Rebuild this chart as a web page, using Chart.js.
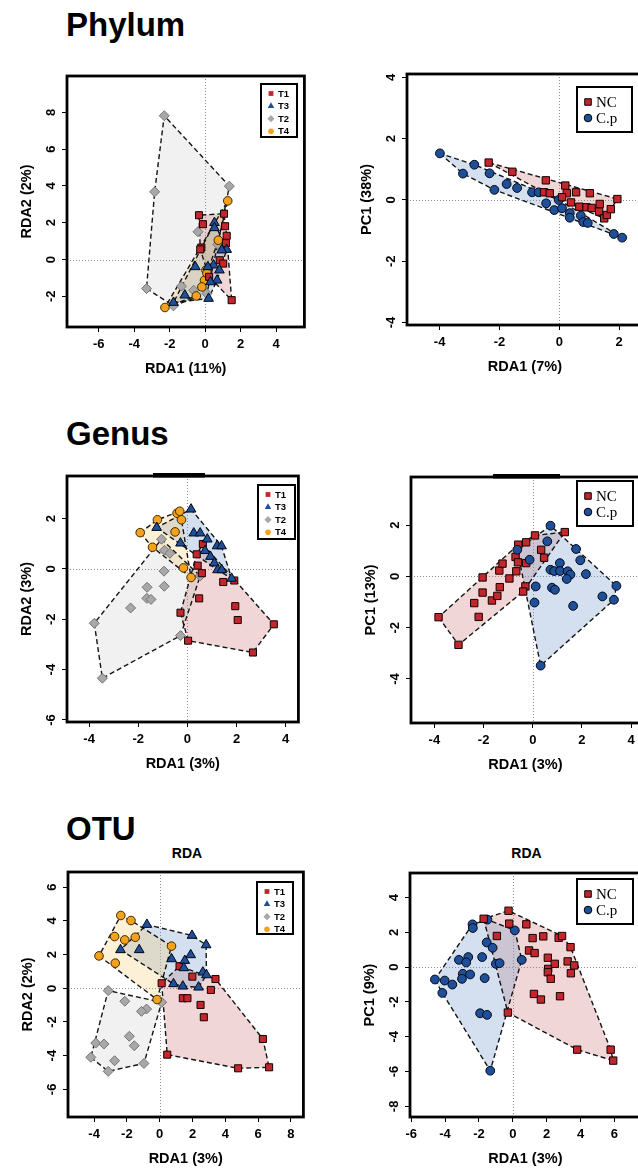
<!DOCTYPE html>
<html><head><meta charset="utf-8">
<script src="https://cdn.jsdelivr.net/npm/chart.js@4.4.0/dist/chart.umd.min.js"></script>
<style>
html,body{margin:0;padding:0;background:#fff;}
body{width:638px;height:1168px;overflow:hidden;position:relative;font-family:"Liberation Sans",Arial,sans-serif;}
.title{position:absolute;font-weight:bold;font-size:33px;line-height:33px;color:#000;white-space:nowrap;}
.sub{position:absolute;font-weight:bold;font-size:14px;line-height:14px;text-align:center;color:#000;}
canvas{position:absolute;}
</style></head><body>
<div class="title" style="left:66px;top:8px">Phylum</div>
<div class="title" style="left:66px;top:417px">Genus</div>
<div class="title" style="left:66px;top:812px">OTU</div>
<div class="sub" style="left:68px;top:846px;width:238px">RDA</div>
<div class="sub" style="left:410px;top:846px;width:233px">RDA</div>
<script>
// ================= DATA =================
const rdaGroups = ['T1', 'T3', 'T2', 'T4'];
const pcGroups = ['NC', 'C.p'];

// Phylum – RDA by treatment
const phylumRdaT1 = [[-0.35,2.41],[-0.13,1.92],[1.06,2.49],[1.12,1.81],[1.21,1.29],[1.17,0.89],[-0.22,0.65],[-0.28,0.55],[0.82,-0.04],[1.01,-0.22],[0.22,-0.94],[1.49,-2.21]];
const phylumRdaT3 = [[0.52,2.0],[0.52,1.72],[1.21,0.54],[0.93,0.51],[-0.56,-0.40],[0.47,-0.31],[0.80,-0.58],[0.15,-0.40],[0.67,-1.13],[0.30,-1.22],[-1.15,-1.94],[-1.79,-2.34],[0.19,-2.12]];
const phylumRdaT2 = [[-2.31,7.82],[1.36,3.99],[-2.85,3.68],[-3.31,-1.58],[-1.79,-2.52],[-1.34,-1.45],[-0.65,-1.67],[-0.41,1.51],[0.71,0.82],[0.09,-1.85]];
const phylumRdaT4 = [[1.27,3.19],[0.74,1.05],[0.04,-0.58],[-0.04,-1.13],[-0.19,-1.49],[-0.50,-1.98],[-2.27,-2.61],[0.10,-0.75]];
// Phylum – PCA NC vs C.p
const phylumPcNC = [[-2.36,1.22],[-1.57,0.92],[-0.45,0.64],[0.20,0.47],[0.25,0.22],[0.56,0.25],[1.02,0.22],[1.94,0.03],[-0.51,0.25],[-0.32,0.22],[0.09,0.09],[0.39,-0.08],[0.67,-0.22],[0.91,-0.24],[1.08,-0.26],[1.35,-0.13],[1.33,-0.38],[1.50,-0.60],[1.59,-0.49],[1.72,-0.30]];
const phylumPcCp = [[-3.99,1.52],[-3.22,0.86],[-2.84,1.15],[-2.33,0.87],[-2.17,0.33],[-1.76,0.52],[-1.41,0.39],[-0.91,0.25],[-0.69,0.25],[-0.44,-0.11],[-0.17,-0.33],[-0.02,0.0],[0.09,-0.27],[0.35,-0.43],[0.35,-0.58],[0.72,-0.51],[0.80,-0.72],[0.95,-0.75],[1.82,-1.11],[2.10,-1.23]];

// Genus – RDA by treatment
const genusRdaT1 = [[0.63,0.99],[0.38,0.58],[0.42,0.13],[0.59,-0.17],[1.46,-0.52],[1.91,-0.46],[0.48,-1.17],[-0.28,-1.74],[0.03,-2.85],[1.95,-1.48],[2.05,-2.03],[3.52,-2.20],[2.67,-3.32]];
const genusRdaT3 = [[0.15,2.37],[-1.25,1.64],[-0.28,1.02],[0.26,1.42],[0.52,1.42],[0.81,1.18],[0.72,0.72],[1.21,0.91],[1.39,0.91],[0.94,0.49],[1.10,0.23],[1.23,-0.04],[1.40,-0.04],[1.80,-0.38]];
const genusRdaT2 = [[-1.05,1.18],[-0.93,0.74],[-0.71,0.62],[-0.95,-0.09],[-0.94,-0.69],[-1.64,-0.73],[-1.65,-1.17],[-1.48,-1.21],[-2.31,-1.55],[-3.79,-2.16],[-3.46,-4.34],[-0.28,-2.65],[0.52,-0.28]];
const genusRdaT4 = [[-1.92,1.44],[-1.22,1.95],[-0.42,2.21],[-0.31,2.29],[-0.24,1.95],[-0.50,1.47],[-1.42,0.86],[-0.16,0.04],[0.15,-0.34]];
// Genus – PCA NC vs C.p
const genusPcNC = [[-3.83,-1.59],[-3.02,-2.67],[-2.20,-1.58],[-2.38,-1.04],[-2.04,-0.04],[-2.04,-0.63],[-1.66,-0.94],[-1.44,-0.76],[-1.34,-0.42],[-1.36,0.23],[-1.23,0.50],[-0.95,-0.08],[-0.70,0.76],[-0.59,1.24],[-0.60,0.55],[-0.27,1.33],[-0.27,0.52],[0.09,1.60],[0.34,1.04],[0.46,0.73],[1.30,1.73],[-0.67,0.20],[-0.30,-0.39],[-0.39,-0.59]];
const genusPcCp = [[0.72,1.98],[0.59,1.37],[-0.63,1.04],[-0.13,0.65],[1.76,1.07],[1.93,0.63],[1.10,0.52],[0.72,0.26],[0.87,0.21],[1.11,0.21],[1.42,0.20],[1.53,0.07],[1.38,-0.10],[2.16,0.09],[0.78,-0.44],[0.90,-0.52],[0.12,-0.39],[0.07,-1.02],[1.64,-1.15],[2.83,-0.78],[3.30,-0.91],[3.40,-0.37],[0.32,-3.48]];

// OTU – RDA by treatment
const otuRdaT1 = [[1.21,1.31],[1.99,0.69],[3.40,0.55],[0.12,0.30],[3.12,-0.10],[1.41,-0.59],[1.69,-0.59],[2.49,-0.99],[2.69,-1.72],[6.29,-3.01],[6.67,-4.69],[4.78,-4.75],[0.46,-3.94]];
const otuRdaT3 = [[-0.78,3.78],[1.97,3.13],[2.83,2.57],[-2.39,2.28],[-1.25,2.28],[0.72,1.74],[1.53,1.64],[1.89,1.98],[1.47,1.21],[2.63,0.95],[2.85,0.79],[0.84,0.26],[1.41,0.12],[2.37,0.06]];
const otuRdaT2 = [[-3.14,-0.14],[-2.13,-0.77],[0.12,-0.83],[-0.80,-1.23],[-1.11,-1.37],[-1.85,-2.85],[-1.55,-3.41],[-3.90,-3.25],[-3.40,-3.31],[-4.20,-4.10],[-2.75,-4.30],[-3.14,-4.93],[-0.96,-4.46]];
const otuRdaT4 = [[-2.37,4.32],[-1.75,4.02],[-2.75,3.07],[-2.13,2.87],[-1.49,3.03],[-3.70,1.92],[-2.71,1.49],[0.72,2.50],[-0.16,-0.67]];
// OTU – PCA NC vs C.p
const otuPcNC = [[-0.25,3.24],[-1.72,2.78],[-0.21,2.50],[0.80,2.46],[-0.94,1.79],[1.17,1.67],[1.80,1.77],[2.71,1.69],[2.91,1.79],[3.41,1.15],[0.96,0.96],[1.29,0.81],[2.07,0.54],[3.24,0.33],[3.63,0.10],[2.09,-0.10],[2.48,0.19],[2.07,-0.29],[2.24,-0.67],[3.43,-0.35],[1.25,-1.54],[1.66,-1.86],[2.79,-1.67],[-0.29,-2.61],[3.80,-4.74],[5.78,-4.74],[5.93,-5.37]];
const otuPcCp = [[-1.50,2.73],[-2.38,2.46],[-2.36,2.25],[0.12,2.11],[-1.54,1.42],[-1.19,1.11],[-3.18,0.42],[-2.63,0.58],[-2.75,0.27],[-1.81,0.58],[-1.00,0.19],[-0.78,0.23],[0.53,0.42],[-2.95,-0.38],[-2.52,-0.42],[-3.00,-0.67],[-1.66,-0.63],[-4.60,-0.71],[-4.02,-0.77],[-3.57,-1.00],[-4.16,-1.48],[-1.93,-2.65],[-1.52,-2.74],[-1.33,-5.95]];

// Tick values
const phylumRdaXTicks = [-6,-4,-2,0,2,4];
const phylumRdaYTicks = [-2,0,2,4,6,8];
const phylumPcXTicks = [-4,-2,0,2];
const phylumPcYTicks = [-4,-2,0,2,4];
const genusRdaXTicks = [-4,-2,0,2,4];
const genusRdaYTicks = [-6,-4,-2,0,2];
const genusPcXTicks = [-4,-2,0,2,4];
const genusPcYTicks = [-4,-2,0,2];
const otuRdaXTicks = [-4,-2,0,2,4,6,8];
const otuRdaYTicks = [-6,-4,-2,0,2,4,6];
const otuPcXTicks = [-6,-4,-2,0,2,4,6];
const otuPcYTicks = [-8,-6,-4,-2,0,2,4];

// Axis titles
const xTitles = ['RDA1 (11%)', 'RDA1 (7%)', 'RDA1 (3%)', 'RDA1 (3%)', 'RDA1 (3%)', 'RDA1 (3%)'];
const yTitles = ['RDA2 (2%)', 'PC1 (38%)', 'RDA2 (3%)', 'PC1 (13%)', 'RDA2 (2%)', 'PC1 (9%)'];

// ================= STYLE / LAYOUT =================
const STY = {
  'T1':  {ps:'rect',     r:5.0, bg:'#c1272d', bd:'#140000', hull:'rgba(205,120,120,0.30)', lr:3.4},
  'T3':  {ps:'triangle', r:5.6, bg:'#1f4f99', bd:'#000814', hull:'rgba(120,160,205,0.32)', lr:3.8},
  'T2':  {ps:'rectRot',  r:5.0, bg:'#a8a8a8', bd:'#747474', hull:'rgba(170,170,170,0.17)', lr:3.6},
  'T4':  {ps:'circle',   r:4.3, bg:'#f4a21d', bd:'#3a2800', hull:'rgba(245,200,110,0.28)', lr:2.8},
  'NC':  {ps:'rect',     r:5.2, bg:'#c1272d', bd:'#140000', hull:'rgba(205,120,120,0.30)', lr:4.6},
  'C.p': {ps:'circle',   r:4.4, bg:'#1f4f99', bd:'#000814', hull:'rgba(120,160,205,0.32)', lr:3.8}
};

const PANELS = [
  {box:[67,76,307,327],  xr:[-7.79,5.59], yr:[-3.67,9.98], xt:phylumRdaXTicks, yt:phylumRdaYTicks, names:rdaGroups, sets:[phylumRdaT1,phylumRdaT3,phylumRdaT2,phylumRdaT4], drawOrder:[2,3,0,1], leg:{x:261,y:84,w:36,h:53,kind:'small'}},
  {box:[407,74,645,325], xr:[-5.09,2.79], yr:[-4.08,4.11], xt:phylumPcXTicks, yt:phylumPcYTicks, names:pcGroups, sets:[phylumPcNC,phylumPcCp], drawOrder:[1,0], leg:{x:577,y:87,w:55,h:45,kind:'big'}},
  {box:[67,476,301,722], xr:[-4.90,4.52], yr:[-6.08,3.69], xt:genusRdaXTicks, yt:genusRdaYTicks, names:rdaGroups, sets:[genusRdaT1,genusRdaT3,genusRdaT2,genusRdaT4], drawOrder:[2,3,0,1], leg:{x:258,y:485,w:37,h:54,kind:'small'}, seg:[153,205]},
  {box:[411,477,642,723], xr:[-4.95,4.35], yr:[-5.72,3.88], xt:genusPcXTicks, yt:genusPcYTicks, names:pcGroups, sets:[genusPcNC,genusPcCp], drawOrder:[0,1], leg:{x:577,y:481,w:56,h:45,kind:'big'}, seg:[493,560]},
  {box:[68,872,306,1117], xr:[-5.59,8.76], yr:[-7.64,6.90], xt:otuRdaXTicks, yt:otuRdaYTicks, names:rdaGroups, sets:[otuRdaT1,otuRdaT3,otuRdaT2,otuRdaT4], drawOrder:[2,3,0,1], leg:{x:257,y:882,w:36,h:52,kind:'small'}},
  {box:[410,873,643,1117], xr:[-6.07,7.56], yr:[-8.61,5.41], xt:otuPcXTicks, yt:otuPcYTicks, names:pcGroups, sets:[otuPcNC,otuPcCp], drawOrder:[1,0], leg:{x:577,y:879,w:56,h:45,kind:'big'}}
];

// ================= HELPERS =================
function convexHull(pts){
  const p = pts.map(a=>({x:a[0],y:a[1]})).sort((a,b)=>a.x-b.x||a.y-b.y);
  const cross=(o,a,b)=>(a.x-o.x)*(b.y-o.y)-(a.y-o.y)*(b.x-o.x);
  const lo=[];for(const q of p){while(lo.length>=2&&cross(lo[lo.length-2],lo[lo.length-1],q)<=0)lo.pop();lo.push(q);}
  const up=[];for(let i=p.length-1;i>=0;i--){const q=p[i];while(up.length>=2&&cross(up[up.length-2],up[up.length-1],q)<=0)up.pop();up.push(q);}
  lo.pop();up.pop();
  const h=lo.concat(up);h.push({x:h[0].x,y:h[0].y});return h;
}
function drawSym(ctx, ps, x, y, r, bg, bd, bw){
  ctx.beginPath();
  if(ps==='rect'){const s=r*Math.SQRT1_2;ctx.rect(x-s,y-s,2*s,2*s);}
  else if(ps==='circle'){ctx.arc(x,y,r,0,Math.PI*2);}
  else if(ps==='rectRot'){ctx.moveTo(x,y-r);ctx.lineTo(x+r,y);ctx.lineTo(x,y+r);ctx.lineTo(x-r,y);ctx.closePath();}
  else {ctx.moveTo(x,y-r);ctx.lineTo(x+r*0.866,y+r*0.5);ctx.lineTo(x-r*0.866,y+r*0.5);ctx.closePath();}
  ctx.fillStyle=bg;ctx.fill();
  if(bw){ctx.lineWidth=bw;ctx.strokeStyle=bd;ctx.stroke();}
}

const decoPlugin = {
  id:'deco',
  beforeDatasetsDraw(chart){
    const {ctx, chartArea:a, scales:{x,y}} = chart;
    ctx.save();
    ctx.strokeStyle='#8c8c8c';ctx.lineWidth=1;ctx.setLineDash([1,2]);
    const px=Math.round(x.getPixelForValue(0))+0.5, py=Math.round(y.getPixelForValue(0))+0.5;
    ctx.beginPath();ctx.moveTo(px,a.top);ctx.lineTo(px,a.bottom);ctx.moveTo(a.left,py);ctx.lineTo(a.right,py);ctx.stroke();
    ctx.setLineDash([]);
    ctx.beginPath();ctx.rect(a.left,a.top,a.right-a.left,a.bottom-a.top);ctx.clip();
    chart.data.datasets.forEach((ds,i)=>{
      if(!ds.hullFill) return;
      const pts = chart.getDatasetMeta(i).data;
      if(!pts.length) return;
      ctx.beginPath();
      pts.forEach((p,k)=>{ if(k===0) ctx.moveTo(p.x,p.y); else ctx.lineTo(p.x,p.y); });
      ctx.closePath();ctx.fillStyle=ds.hullFill;ctx.fill();
    });
    ctx.restore();
  },
  afterDraw(chart, args, opts){
    const {ctx, chartArea:a} = chart;
    const P = opts.panel, offX = opts.offX, offY = opts.offY;
    ctx.save();
    ctx.strokeStyle='#000';ctx.lineWidth=2.8;
    ctx.strokeRect(a.left,a.top,a.right-a.left,a.bottom-a.top);
    if(P.seg){ctx.lineWidth=4.5;ctx.beginPath();ctx.moveTo(P.seg[0]-offX,a.top-0.8);ctx.lineTo(P.seg[1]-offX,a.top-0.8);ctx.stroke();}
    const L = P.leg, lx = L.x-offX, ly = L.y-offY;
    ctx.fillStyle='#fff';ctx.fillRect(lx,ly,L.w,L.h);
    ctx.lineWidth=2;ctx.strokeStyle='#000';ctx.strokeRect(lx,ly,L.w,L.h);
    ctx.textBaseline='middle';ctx.textAlign='left';
    P.names.forEach((n,k)=>{
      const s = STY[n];
      if(L.kind==='small'){
        const yy = ly + 9.5 + k*12.6;
        drawSym(ctx, s.ps, lx+10, yy, s.lr, s.bg, s.bd, 0);
        ctx.fillStyle='#000';ctx.font='bold 9.5px "Liberation Sans", Arial, sans-serif';
        ctx.fillText(n, lx+17, yy+0.5);
      } else {
        const yy = ly + 15 + k*16;
        drawSym(ctx, s.ps, lx+11, yy, s.lr, s.bg, '#000', 1);
        ctx.fillStyle='#000';ctx.font='15px "Liberation Serif", "Times New Roman", serif';
        ctx.fillText(n, lx+19, yy+1);
      }
    });
    ctx.restore();
  }
};

Chart.defaults.font.family = '"Liberation Sans", Arial, sans-serif';
Chart.defaults.color = '#000';

const YW=57, TP=14, RP=4, XH=52;
PANELS.forEach((P,pi)=>{
  const [L,T,R,B] = P.box;
  const W = R-L+YW+RP, H = B-T+TP+XH;
  const offX = L-YW, offY = T-TP;
  const cv = document.createElement('canvas');
  cv.width=W;cv.height=H;
  cv.style.left=offX+'px';cv.style.top=offY+'px';cv.style.width=W+'px';cv.style.height=H+'px';
  document.body.appendChild(cv);
  const datasets=[];
  P.names.forEach((n,gi)=>{
    const s=STY[n];
    datasets.push({type:'line', label:n+' hull', data:convexHull(P.sets[gi]), hullFill:s.hull,
      borderColor:'#141414', borderWidth:1.4, borderDash:[5,3], fill:false, pointRadius:0, pointHoverRadius:0,
      tension:0, order:50+gi, clip:false});
  });
  P.drawOrder.forEach((gi,k)=>{
    const n=P.names[gi], s=STY[n];
    datasets.push({type:'scatter', label:n, data:P.sets[gi].map(([x,y])=>({x,y})),
      pointStyle:s.ps, pointRadius:s.r, pointHoverRadius:s.r, backgroundColor:s.bg, borderColor:s.bd,
      borderWidth:1, order:20-k, clip:false});
  });
  new Chart(cv, {
    type:'scatter',
    data:{datasets},
    options:{
      responsive:false, maintainAspectRatio:false, animation:false, events:[],
      layout:{padding:{top:TP,right:RP,left:0,bottom:0}},
      plugins:{legend:{display:false}, tooltip:{enabled:false}, deco:{panel:P, offX, offY}},
      scales:{
        x:{type:'linear', position:'bottom', min:P.xr[0], max:P.xr[1],
          afterBuildTicks:s=>{s.ticks=P.xt.map(v=>({value:v}));},
          afterFit:s=>{s.height=XH;},
          grid:{drawOnChartArea:false, drawTicks:true, tickLength:5, tickColor:'#000', tickWidth:1},
          border:{display:false},
          ticks:{autoSkip:false, minRotation:0, maxRotation:0, padding:5, color:'#000',
            font:{size:13, weight:'bold'}, callback:v=>String(v)},
          title:{display:true, text:xTitles[pi], color:'#000', font:{size:14.5, weight:'bold'}, padding:{top:0,bottom:1.3}}},
        y:{type:'linear', position:'left', min:P.yr[0], max:P.yr[1],
          afterBuildTicks:s=>{s.ticks=P.yt.map(v=>({value:v}));},
          afterFit:s=>{s.width=YW;},
          grid:{drawOnChartArea:false, drawTicks:true, tickLength:5, tickColor:'#000', tickWidth:1},
          border:{display:false},
          ticks:{autoSkip:false, minRotation:90, maxRotation:90, crossAlign:'center', padding:5, color:'#000',
            font:{size:13, weight:'bold'}, callback:v=>String(v)},
          title:{display:true, text:yTitles[pi], color:'#000', font:{size:14.5, weight:'bold'}, padding:{top:8.3,bottom:0}}}
      }
    },
    plugins:[decoPlugin]
  });
});
</script>
</body></html>
